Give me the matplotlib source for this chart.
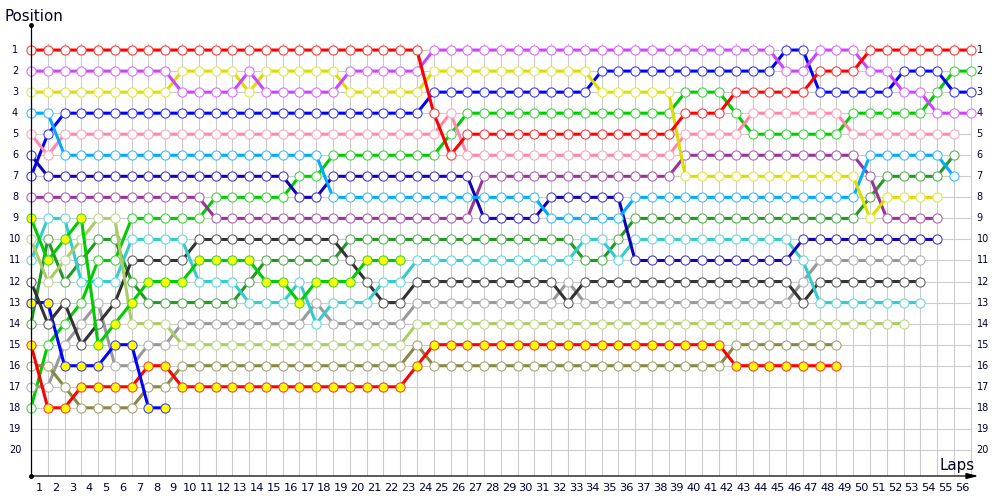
import matplotlib
matplotlib.use("Agg")
import matplotlib.pyplot as plt
from matplotlib.colors import to_rgb

# ---------------- data: position of each driver after each lap (lap 0 = grid) -------------
lap_labels = list(range(1, 57))
position_labels = list(range(1, 21))

pos_red = [1, 1, 1, 1, 1, 1, 1, 1, 1, 1,
           1, 1, 1, 1, 1, 1, 1, 1, 1, 1,
           1, 1, 1, 1, 4, 6, 5, 5, 5, 5,
           5, 5, 5, 5, 5, 5, 5, 5, 5, 4,
           4, 4, 3, 3, 3, 3, 3, 2, 2, 2,
           1, 1, 1, 1, 1, 1, 1]
pos_magenta = [2, 2, 2, 2, 2, 2, 2, 2, 2, 3,
               3, 3, 3, 2, 3, 3, 3, 3, 3, 2,
               2, 2, 2, 2, 1, 1, 1, 1, 1, 1,
               1, 1, 1, 1, 1, 1, 1, 1, 1, 1,
               1, 1, 1, 1, 1, 2, 2, 1, 1, 1,
               2, 2, 3, 3, 4, 4, 4]
pos_yellow = [3, 3, 3, 3, 3, 3, 3, 3, 3, 2,
              2, 2, 2, 3, 2, 2, 2, 2, 2, 3,
              3, 3, 3, 3, 2, 2, 2, 2, 2, 2,
              2, 2, 2, 2, 3, 3, 3, 3, 3, 7,
              7, 7, 7, 7, 7, 7, 7, 7, 7, 7,
              9, 8, 8, 8, 8]
pos_lightblue = [4, 4, 6, 6, 6, 6, 6, 6, 6, 6,
                 6, 6, 6, 6, 6, 6, 6, 6, 8, 8,
                 8, 8, 8, 8, 8, 8, 8, 8, 8, 8,
                 8, 9, 9, 9, 9, 9, 8, 8, 8, 8,
                 8, 8, 8, 8, 8, 8, 8, 8, 8, 8,
                 6, 6, 6, 6, 6, 7]
pos_pink = [5, 6, 5, 5, 5, 5, 5, 5, 5, 5,
            5, 5, 5, 5, 5, 5, 5, 5, 5, 5,
            5, 5, 5, 5, 5, 4, 6, 6, 6, 6,
            6, 6, 6, 6, 6, 6, 6, 6, 6, 5,
            5, 5, 5, 4, 4, 4, 4, 4, 4, 5,
            5, 5, 5, 5, 5, 5]
pos_indigo = [6, 7, 7, 7, 7, 7, 7, 7, 7, 7,
              7, 7, 7, 7, 7, 7, 8, 8, 7, 7,
              7, 7, 7, 7, 7, 7, 7, 9, 9, 9,
              9, 8, 8, 8, 8, 8, 11, 11, 11, 11,
              11, 11, 11, 11, 11, 11, 10, 10, 10, 10,
              10, 10, 10, 10, 10]
pos_blue = [7, 5, 4, 4, 4, 4, 4, 4, 4, 4,
            4, 4, 4, 4, 4, 4, 4, 4, 4, 4,
            4, 4, 4, 4, 3, 3, 3, 3, 3, 3,
            3, 3, 3, 3, 2, 2, 2, 2, 2, 2,
            2, 2, 2, 2, 2, 1, 1, 3, 3, 3,
            3, 3, 2, 2, 2, 3, 3]
pos_purple = [8, 8, 8, 8, 8, 8, 8, 8, 8, 8,
              8, 9, 9, 9, 9, 9, 9, 9, 9, 9,
              9, 9, 9, 9, 9, 9, 9, 7, 7, 7,
              7, 7, 7, 7, 7, 7, 7, 7, 7, 6,
              6, 6, 6, 6, 6, 6, 6, 6, 6, 6,
              7, 9, 9, 9, 9]
pos_green_yellow = [9, 11, 10, 9, 15, 14, 13, 12, 12, 12,
                    11, 11, 11, 11, 12, 12, 13, 12, 12, 12,
                    11, 11, 11]
pos_lightolive = [10, 12, 11, 10, 9, 9, 14, 14, 14, 15,
                  15, 15, 15, 15, 15, 15, 15, 15, 15, 15,
                  15, 15, 15, 14, 14, 14, 14, 14, 14, 14,
                  14, 14, 14, 14, 14, 14, 14, 14, 14, 14,
                  14, 14, 14, 14, 14, 14, 14, 14, 14, 14,
                  14, 14, 14]
pos_cyan = [11, 9, 9, 12, 12, 12, 10, 10, 10, 10,
            12, 12, 12, 13, 13, 13, 12, 14, 13, 13,
            13, 12, 12, 11, 11, 11, 11, 11, 11, 11,
            11, 11, 11, 10, 10, 11, 10, 10, 10, 10,
            10, 10, 10, 10, 10, 10, 11, 13, 13, 13,
            13, 13, 13, 13]
pos_darkgray = [12, 14, 13, 15, 14, 13, 11, 11, 11, 11,
                10, 10, 10, 10, 10, 10, 10, 10, 10, 11,
                12, 13, 13, 12, 12, 12, 12, 12, 12, 12,
                12, 12, 13, 12, 12, 12, 12, 12, 12, 12,
                12, 12, 12, 12, 12, 12, 13, 12, 12, 12,
                12, 12, 12, 12]
pos_blue_yellow = [13, 13, 16, 16, 16, 15, 15, 18, 18]
pos_darkgreen = [14, 10, 12, 11, 10, 10, 12, 13, 13, 13,
                 13, 13, 13, 12, 11, 11, 11, 11, 11, 10,
                 10, 10, 10, 10, 10, 10, 10, 10, 10, 10,
                 10, 10, 10, 11, 11, 10, 9, 9, 9, 9,
                 9, 9, 9, 9, 9, 9, 9, 9, 9, 9,
                 8, 7, 7, 7, 7, 6]
pos_red_yellow = [15, 18, 18, 17, 17, 17, 17, 16, 16, 17,
                  17, 17, 17, 17, 17, 17, 17, 17, 17, 17,
                  17, 17, 17, 16, 15, 15, 15, 15, 15, 15,
                  15, 15, 15, 15, 15, 15, 15, 15, 15, 15,
                  15, 15, 16, 16, 16, 16, 16, 16, 16]
pos_olive = [16, 16, 17, 18, 18, 18, 18, 17, 17, 16,
             16, 16, 16, 16, 16, 16, 16, 16, 16, 16,
             16, 16, 16, 15, 16, 16, 16, 16, 16, 16,
             16, 16, 16, 16, 16, 16, 16, 16, 16, 16,
             16, 16, 15, 15, 15, 15, 15, 15, 15]
pos_gray = [17, 17, 15, 14, 13, 16, 16, 15, 15, 14,
            14, 14, 14, 14, 14, 14, 14, 13, 14, 14,
            14, 14, 14, 13, 13, 13, 13, 13, 13, 13,
            13, 13, 12, 13, 13, 13, 13, 13, 13, 13,
            13, 13, 13, 13, 13, 13, 12, 11, 11, 11,
            11, 11, 11, 11]
pos_green = [18, 15, 14, 13, 11, 11, 9, 9, 9, 9,
             9, 8, 8, 8, 8, 8, 7, 7, 6, 6,
             6, 6, 6, 6, 6, 5, 4, 4, 4, 4,
             4, 4, 4, 4, 4, 4, 4, 4, 4, 3,
             3, 3, 4, 5, 5, 5, 5, 5, 5, 4,
             4, 4, 4, 4, 3, 2, 2]

# (series, line colour, marker face colour)
drivers = [
    (pos_green, '#00CC00', 'white'),
    (pos_gray, '#999999', 'white'),
    (pos_olive, '#888844', 'white'),
    (pos_red_yellow, '#FF0000', '#FFFF00'),
    (pos_darkgreen, '#229922', 'white'),
    (pos_blue_yellow, '#0000FF', '#FFFF00'),
    (pos_darkgray, '#333333', 'white'),
    (pos_cyan, '#33CCCC', 'white'),
    (pos_lightolive, '#AACC66', 'white'),
    (pos_green_yellow, '#00CC00', '#FFFF00'),
    (pos_purple, '#993399', 'white'),
    (pos_blue, '#0000FF', 'white'),
    (pos_indigo, '#1100BB', 'white'),
    (pos_pink, '#FF88AA', 'white'),
    (pos_lightblue, '#00AAFF', 'white'),
    (pos_yellow, '#DDDD00', 'white'),
    (pos_magenta, '#CC44FF', 'white'),
    (pos_red, '#FF0000', 'white'),
]


def lighten(c, f=0.25):
    r, g, b = to_rgb(c)
    return (r + (1 - r) * f, g + (1 - g) * f, b + (1 - b) * f)


fig = plt.figure(figsize=(10, 5), dpi=100)
XMAX = 57.5
YBOT, YTOP = 21.24, -0.19
ax = fig.add_axes([0.031, 0.048, XMAX * 16.78 / 1000, 0.902])
ax.set_xlim(0, XMAX)
ax.set_ylim(YBOT, YTOP)
ax.axis('off')

n_laps = len(lap_labels)
grid_c = '#CCCCCC'
ax.vlines(range(n_laps + 1), 0.67, YBOT, color=grid_c, lw=0.8, zorder=1)
ax.hlines(position_labels, 0, n_laps, color=grid_c, lw=0.8, zorder=1)

for i, (series, col, face) in enumerate(drivers):
    laps = list(range(len(series)))
    ax.plot(laps, series, color=col, lw=2.2, marker='o', ms=6.6,
            mfc=face, mec=lighten(col), mew=0.8, zorder=3 + i,
            solid_joinstyle='round', clip_on=False)

# axes lines
ax.plot([0, 0], [YBOT, YTOP], color='black', lw=0.9, clip_on=False, zorder=30)
ax.annotate('', xy=(56.45, YBOT), xytext=(0, YBOT),
            arrowprops=dict(arrowstyle='-|>,head_length=0.7,head_width=0.18',
                            color='black', lw=0.9, shrinkA=0, shrinkB=0),
            annotation_clip=False, zorder=30)
ax.plot([0, 0], [YTOP, YBOT], ls='none', marker='o', ms=2.5, color='black',
        clip_on=False, zorder=31)

label_color = '#000033'
for p in position_labels:
    ax.text(-0.95, p, str(p), ha='center', va='center', fontsize=7,
            color=label_color)
    ax.text(56.35, p, str(p), ha='left', va='center', fontsize=7,
            color=label_color)
for lap in lap_labels:
    ax.text(lap - 0.52, 21.8, str(lap), ha='center', va='center',
            fontsize=8.2, color=label_color)

fig.text(0.004, 1 - 20.7 / 500, 'Position', fontsize=10.8, ha='left',
         va='baseline', color='#000022')
fig.text(0.975, 1 - 470 / 500, 'Laps', fontsize=10.8, ha='right',
         va='baseline', color='#000022')

fig.savefig('out.png', dpi=100)
